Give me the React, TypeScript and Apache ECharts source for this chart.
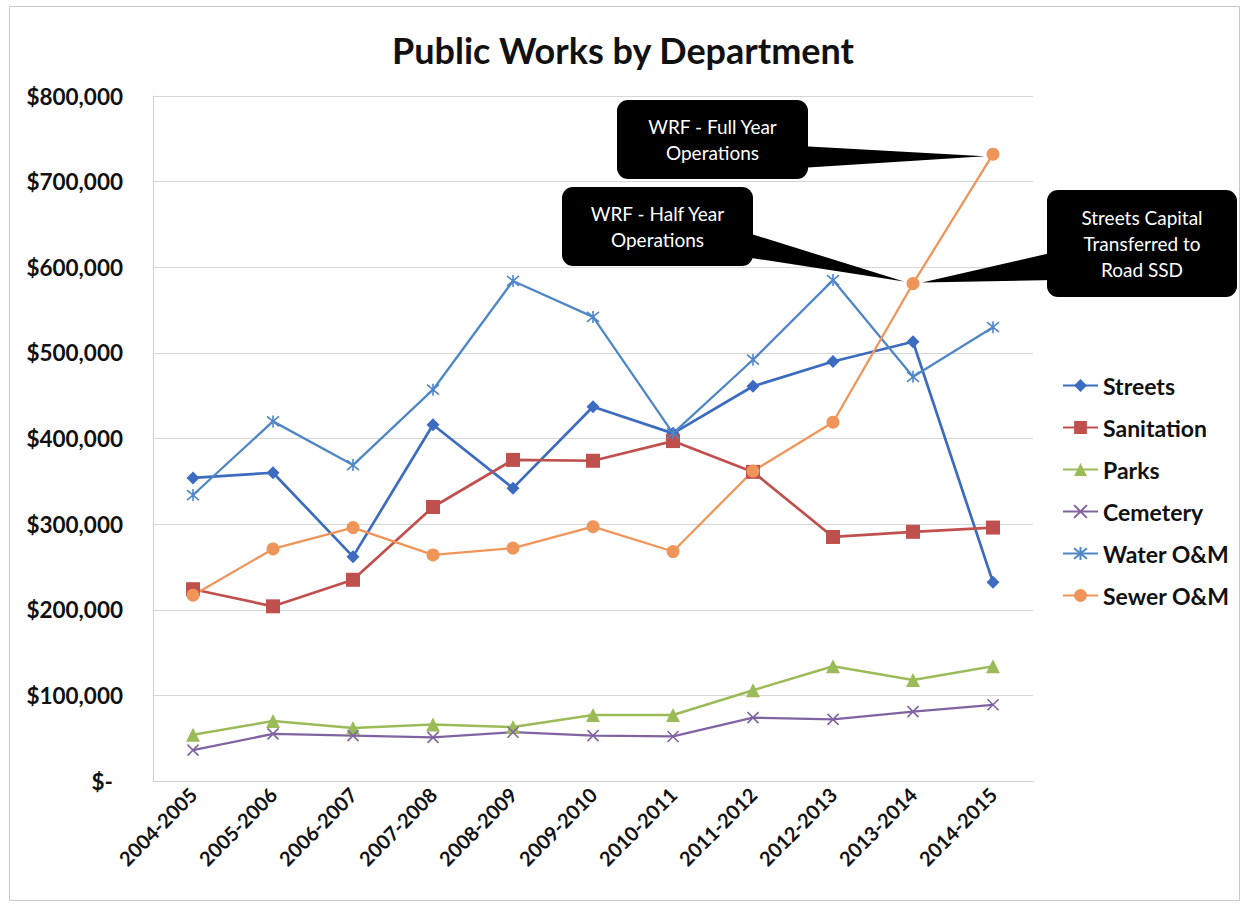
import React, { useEffect, useRef } from 'react';
import * as echarts from 'echarts';

const years = ['2004-2005', '2005-2006', '2006-2007', '2007-2008', '2008-2009', '2009-2010', '2010-2011', '2011-2012', '2012-2013', '2013-2014', '2014-2015'];
const streets = [354000, 360000, 262000, 416000, 342000, 437000, 406000, 461000, 490000, 513000, 232000];
const sanitation = [224000, 204000, 235000, 320000, 375000, 374000, 397000, 361000, 285000, 291000, 296000];
const parks = [54000, 70000, 62000, 66000, 63000, 77000, 77000, 106000, 134000, 118000, 134000];
const cemetery = [36000, 55000, 53000, 51000, 57000, 53000, 52000, 74000, 72000, 81000, 89000];
const water = [334000, 420000, 369000, 457000, 584000, 542000, 406000, 492000, 585000, 472000, 530000];
const sewer = [217000, 271000, 296000, 264000, 272000, 297000, 268000, 362000, 419000, 581000, 732000];

const seriesNames = ['Streets', 'Sanitation', 'Parks', 'Cemetery', 'Water O&M', 'Sewer O&M'];
const seriesColors = ['#3C6BBF', '#C0504D', '#9BBB59', '#8064A2', '#4F87C6', '#F0955A'];

const calloutFull = 'WRF - Full Year\nOperations';
const calloutHalf = 'WRF - Half Year\nOperations';
const calloutStreets = 'Streets Capital\nTransferred to\nRoad SSD';

const FONT = 'Lato, "Open Sans", sans-serif';
const X_PATH = 'path://M0,0 L10,10 M10,0 L0,10';
const STAR_PATH = 'path://M0,0 L10,10 M10,0 L0,10 M5,-1 L5,11';

export default function App() {
  const ref = useRef<HTMLDivElement>(null);
  useEffect(() => {
    document.body.style.margin = '0';
    const chart = echarts.init(ref.current!, null, { renderer: 'svg' });
    const mk = (i: number, data: number[], symbol: string, size: number, width: number, stroked = false) => ({
      name: seriesNames[i],
      type: 'line',
      data,
      symbol,
      symbolSize: size,
      showSymbol: true,
      lineStyle: { color: seriesColors[i], width },
      itemStyle: stroked
        ? { color: seriesColors[i], borderColor: seriesColors[i], borderWidth: 1.6 }
        : { color: seriesColors[i], borderWidth: 0 },
      emphasis: { disabled: true },
      z: 3,
    });
    chart.setOption({
      animation: false,
      backgroundColor: '#ffffff',
      title: {
        text: 'Public Works by Department',
        left: 'center',
        top: 27,
        textStyle: { fontFamily: FONT, fontSize: 36, fontWeight: 'bold', color: '#111' },
      },
      grid: { left: 153, right: 213, top: 96, bottom: 127, containLabel: false },
      legend: {
        orient: 'vertical',
        left: 1057,
        top: 369,
        itemGap: 19,
        itemWidth: 35,
        itemHeight: 16,
        textStyle: { fontFamily: FONT, fontSize: 23, fontWeight: 'bold', color: '#111' },
        data: seriesNames,
      },
      xAxis: {
        type: 'category',
        data: years,
        boundaryGap: true,
        axisLine: { show: true, lineStyle: { color: '#d0d0d0' } },
        axisTick: { show: false },
        axisLabel: {
          rotate: 45,
          interval: 0,
          margin: 10,
          fontFamily: FONT,
          fontSize: 20,
          fontWeight: 'bold',
          color: '#111',
        },
      },
      yAxis: {
        type: 'value',
        min: 0,
        max: 800000,
        interval: 100000,
        axisLine: { show: true, lineStyle: { color: '#d0d0d0' } },
        axisTick: { show: false },
        splitLine: { show: true, lineStyle: { color: '#d6d6d6' } },
        axisLabel: {
          margin: 30,
          fontFamily: FONT,
          fontSize: 22.5,
          fontWeight: 'bold',
          color: '#111',
          formatter: (v: number) => (v === 0 ? '{z|$-}' : '$' + v.toLocaleString('en-US')),
          rich: { z: { fontFamily: FONT, fontSize: 22.5, fontWeight: 'bold', color: '#111', padding: [0, 10, 0, 0] } },
        },
      },
      series: [
        mk(0, streets, 'diamond', 13, 2.7),
        mk(1, sanitation, 'rect', 14, 2.7),
        mk(2, parks, 'triangle', 14, 2.5),
        mk(3, cemetery, X_PATH, 11, 2.3, true),
        mk(4, water, STAR_PATH, 12, 2.3, true),
        mk(5, sewer, 'circle', 13, 2.3),
      ],
    });

    const pt = (si: number, idx: number, val: number) => chart.convertToPixel({ seriesIndex: si }, [idx, val]) as number[];
    const pFull = pt(5, 10, sewer[10]);
    const pHalf = pt(5, 9, sewer[9]);

    const callout = (
      box: { x: number; y: number; w: number; h: number },
      base: number[][],
      tip: number[],
      text: string
    ) => [
      { type: 'polygon', shape: { points: [base[0], base[1], tip] }, style: { fill: '#000' }, z: 10 },
      { type: 'rect', shape: { x: box.x, y: box.y, width: box.w, height: box.h, r: 11 }, style: { fill: '#000' }, z: 10 },
      {
        type: 'text',
        x: box.x + box.w / 2,
        y: box.y + box.h / 2,
        z: 11,
        style: {
          text,
          fill: '#fff',
          font: `19px ${FONT}`,
          align: 'center',
          verticalAlign: 'middle',
          lineHeight: 26,
        },
      },
    ];

    chart.setOption({
      graphic: [
        { type: 'rect', shape: { x: 9.5, y: 6.5, width: 1230, height: 894 }, style: { fill: 'none', stroke: '#c8c8c8', lineWidth: 1 }, z: 0 },
        ...callout({ x: 617, y: 100, w: 191, h: 79 }, [[800, 146], [800, 168]], [pFull[0] - 8, pFull[1] + 2], calloutFull),
        ...callout({ x: 562, y: 187, w: 191, h: 79 }, [[745, 232], [745, 257]], [pHalf[0] - 9, pHalf[1] - 2], calloutHalf),
        ...callout({ x: 1047, y: 190, w: 190, h: 107 }, [[1055, 252], [1055, 280]], [pHalf[0] + 9, pHalf[1] - 1], calloutStreets),
      ],
    });
    return () => chart.dispose();
  }, []);
  return <div ref={ref} style={{ width: 1246, height: 908 }} />;
}
